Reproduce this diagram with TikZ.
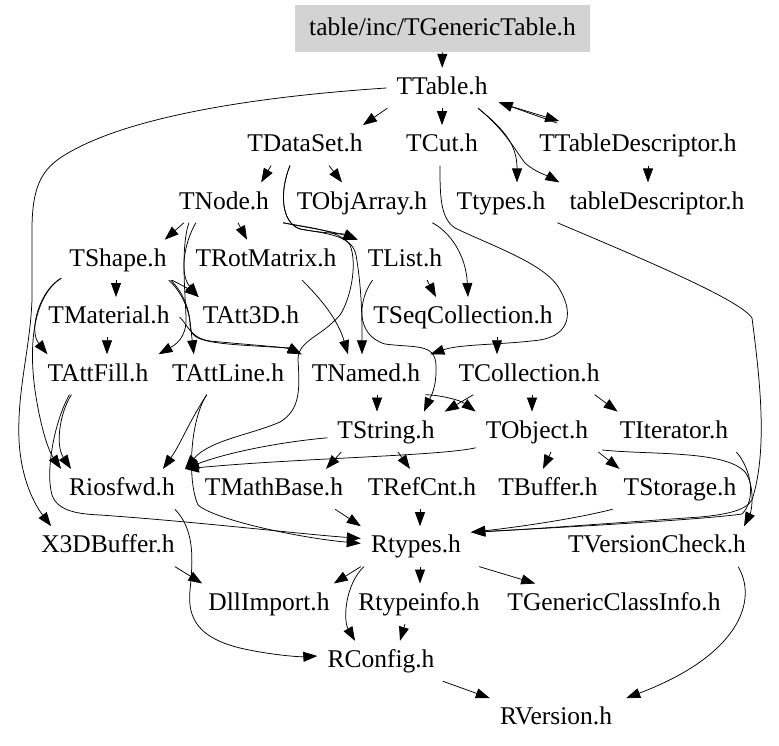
\documentclass[tikz,border=0pt]{standalone}
\usepackage{fontspec}
\setmainfont{Liberation Serif}
\usetikzlibrary{arrows.meta,calc}
\begin{document}
\begin{tikzpicture}[x=1pt,y=-1pt,
  n/.style={inner xsep=10pt,inner ysep=0pt,minimum height=40pt,text height=18pt,text depth=5pt,font=\fontsize{25.5}{28}\selectfont},
  e/.style={draw=black,line width=0.75pt,-{Triangle[length=14pt,width=10pt]}}]
\useasboundingbox (0,0) rectangle (779,745);
% nodes
\node[n,fill={rgb,255:red,211;green,211;blue,211},minimum width=295pt,minimum height=47pt] (TGT) at (442.5,28.5) {table/inc/TGenericTable.h};
\node[n] (TTable) at (442,88) {TTable.h};
\node[n] (TDataSet) at (305,145.3) {TDataSet.h};
\node[n] (TCut) at (442,145.3) {TCut.h};
\node[n] (TTD) at (638,145.3) {TTableDescriptor.h};
\node[n] (TNode) at (224,202.6) {TNode.h};
\node[n] (TObjArray) at (362,202.6) {TObjArray.h};
\node[n] (Ttypes) at (501,202.6) {Ttypes.h};
\node[n] (tD) at (657,202.6) {tableDescriptor.h};
\node[n] (TShape) at (118,259.9) {TShape.h};
\node[n] (TRotMatrix) at (266,259.9) {TRotMatrix.h};
\node[n] (TList) at (405,259.9) {TList.h};
\node[n] (TMaterial) at (109,317.2) {TMaterial.h};
\node[n] (TAtt3D) at (251,317.2) {TAtt3D.h};
\node[n] (TSeqColl) at (463,317.2) {TSeqCollection.h};
\node[n] (TAttFill) at (98,374.5) {TAttFill.h};
\node[n] (TAttLine) at (228,374.5) {TAttLine.h};
\node[n] (TNamed) at (366,374.5) {TNamed.h};
\node[n] (TColl) at (529,374.5) {TCollection.h};
\node[n] (TString) at (386,431.8) {TString.h};
\node[n] (TObject) at (537,431.8) {TObject.h};
\node[n] (TIterator) at (674,431.8) {TIterator.h};
\node[n] (Riosfwd) at (122,489.1) {Riosfwd.h};
\node[n] (TMathBase) at (274,489.1) {TMathBase.h};
\node[n] (TRefCnt) at (422,489.1) {TRefCnt.h};
\node[n] (TBuffer) at (548,489.1) {TBuffer.h};
\node[n] (TStorage) at (680,489.1) {TStorage.h};
\node[n] (X3D) at (108,546.4) {X3DBuffer.h};
\node[n] (Rtypes) at (416,546.4) {Rtypes.h};
\node[n] (TVC) at (657,546.4) {TVersionCheck.h};
\node[n] (DllImport) at (269,603.7) {DllImport.h};
\node[n] (Rtypeinfo) at (419,603.7) {Rtypeinfo.h};
\node[n] (TGCI) at (614,603.7) {TGenericClassInfo.h};
\node[n] (RConfig) at (381,661) {RConfig.h};
\node[n] (RVersion) at (556,718.3) {RVersion.h};
% edges
\draw[e] (TGT) -- (TTable);
\draw[e] ($(TTable.south west)+(1,0)$) -- ($(TDataSet.north east)+(-10,0)$);
\draw[e] (TTable) -- (TCut);
\draw[e] ($(TTable.south east)+(3,-5)$) -- ($(TTD.north west)+(30,-4)$);
\draw[e] ($(TTD.north west)+(28,-2)$) -- ($(TTable.south east)+(1,-6)$);
\draw[e] ($(TTable.south)+(36,0)$) .. controls (505,130) and (517,145) .. ($(Ttypes.north)+(16,0)$);
\draw[e] ($(TTable.south)+(36,0)$) .. controls (505,130) and (515,150) .. (525,163) .. controls (535,172) and (548,176) .. (tD.north west);
\draw[e] ($(TTD.south)+(10,0)$) -- ($(tD.north)+(-9,0)$);
\draw[e] (TTable.west) .. controls (250,97) and (120,118) .. (60,158) .. controls (40,172) and (32,190) .. (32,230) -- (32,300) .. controls (30,350) and (17,390) .. (19,440) .. controls (21,480) and (35,505) .. ($(X3D.north west)+(20,0)$);
\draw[e] ($(TDataSet.south west)+(34,0)$) -- ($(TNode.north east)+(-18,0)$);
\draw[e] ($(TDataSet.south)+(24,0)$) -- ($(TObjArray.north)+(-20,0)$);
\draw[e] ($(TDataSet.south)+(-15,0)$) .. controls (280,190) and (280,222) .. (300,229) .. controls (320,233) and (345,234) .. (TList.north west);
\draw[e] ($(TDataSet.south)+(-15,0)$) .. controls (280,190) and (280,222) .. (300,229) .. controls (330,234) and (352,236) .. (356,255) .. controls (362,290) and (362,320) .. ($(TNamed.north)+(-4,0)$);
\draw[e] ($(TNode.south west)+(15,0)$) -- ($(TShape.north east)+(-12,0)$);
\draw[e] ($(TNode.south)+(14,0)$) -- ($(TRotMatrix.north)+(-19,0)$);
\draw[e] ($(TNode.south east)+(4,0)$) .. controls (310,228) and (335,232) .. (TList.north west);
\draw[e] ($(TNode.south east)+(4,0)$) .. controls (310,228) and (340,230) .. (350,245) .. controls (358,265) and (350,300) .. (340,315) .. controls (320,338) and (298,340) .. (298,360) .. controls (300,390) and (300,410) .. (280,422) .. controls (250,435) and (210,440) .. (Riosfwd.north east);
\draw[e] ($(TRotMatrix.south)+(36,0)$) .. controls (322,300) and (338,320) .. ($(TNamed.north)+(-18,0)$);
\draw[e] ($(TNode.south west)+(27,0)$) .. controls (183,245) and (180,275) .. ($(TAtt3D.north west)+(6,0)$);
\draw[e] ($(TShape.south east)+(-5,0)$) .. controls (182,285) and (190,290) .. ($(TAtt3D.north west)+(6,0)$);
\draw[e] ($(TShape.south)+(-2,0)$) -- ($(TMaterial.north)+(7,0)$);
\draw[e] ($(TShape.south west)+(2,-2)$) .. controls (40,290) and (28,330) .. ($(TAttFill.north west)+(10,0)$);
\draw[e] ($(TShape.south west)+(2,-2)$) .. controls (35,295) and (28,340) .. (35,390) .. controls (40,425) and (48,450) .. ($(Riosfwd.north west)+(2,0)$);
\draw[e] ($(TMaterial.south)+(-2,0)$) -- ($(TAttFill.north)+(9,0)$);
\draw[e] ($(TNode.south west)+(20,0)$) .. controls (180,250) and (186,300) .. (186,320) .. controls (186,338) and (175,345) .. (TAttFill.north east);
\draw[e] ($(TShape.south east)+(-8,0)$) .. controls (185,295) and (190,315) .. (191,330) -- ($(TAttLine.north west)+(32,0)$);
\draw[e] ($(TShape.south east)+(-6,0)$) .. controls (183,292) and (190,310) .. (190,325) .. controls (190,338) and (200,342) .. (240,345) .. controls (270,347) and (290,348) .. (TNamed.north west);
\draw[e] (TMaterial.east) .. controls (188,325) and (190,338) .. (210,341) .. controls (250,345) and (285,347) .. (TNamed.north west);
\draw[e] ($(TObjArray.south east)+(-5,0)$) .. controls (450,232) and (466,255) .. ($(TSeqColl.north)+(5,0)$);
\draw[e] ($(TList.south)+(22,0)$) -- ($(TSeqColl.north)+(-27,0)$);
\draw[e] ($(TCut.south)+(-2,0)$) .. controls (440,195) and (440,218) .. (455,228) .. controls (490,245) and (540,262) .. (557,285) .. controls (575,312) and (570,335) .. (540,340) .. controls (500,345) and (460,344) .. (TNamed.north east);
\draw[e] ($(TSeqColl.south)+(34,0)$) -- ($(TColl.north)+(-32,0)$);
\draw[e] ($(TList.south west)+(15,0)$) .. controls (358,300) and (355,335) .. (385,344) .. controls (415,348) and (435,343) .. (436,365) .. controls (437,388) and (430,398) .. ($(TString.north)+(38,0)$);
\draw[e] ($(TNamed.south)+(11,0)$) -- ($(TString.north)+(-9,0)$);
\draw[e] ($(TNamed.south east)+(-5,0)$) .. controls (440,395) and (460,400) .. (TObject.north west);
\draw[e] ($(TColl.south)+(3,0)$) -- ($(TObject.north)+(-5,0)$);
\draw[e] ($(TColl.south west)+(25,0)$) -- (TString.north east);
\draw[e] ($(TColl.south east)+(-15,0)$) -- ($(TIterator.north west)+(8,0)$);
\draw[e] ($(TString.south west)+(14,0)$) -- ($(TMathBase.north)+(52,0)$);
\draw[e] ($(TString.south)+(12,0)$) -- ($(TRefCnt.north)+(-12,0)$);
\draw[e] ($(TString.west)+(0,6)$) .. controls (270,443) and (220,455) .. (Riosfwd.north east);
\draw[e] ($(TObject.west)+(0,16)$) .. controls (440,456) and (300,458) .. (Riosfwd.north east);
\draw[e] ($(TObject.south)+(14,0)$) -- ($(TBuffer.north)+(-5,0)$);
\draw[e] (TObject.south east) -- ($(TStorage.north west)+(6,0)$);
\draw[e] ($(TObject.south east)+(4,-2)$) .. controls (650,455) and (725,450) .. (745,472) .. controls (755,485) and (752,510) .. ($(TVC.north east)+(-12,0)$);
\draw[e] ($(TIterator.south east)+(-2,0)$) .. controls (752,470) and (756,500) .. (742,514) .. controls (700,520) and (550,528) .. ($(Rtypes.north east)+(0,6)$);
\draw[e] ($(Ttypes.south east)+(2,0)$) .. controls (650,262) and (740,300) .. (752,318) .. controls (760,380) and (768,450) .. (752,500) .. controls (745,512) and (720,515) .. (700,517) .. controls (600,524) and (520,530) .. ($(Rtypes.north east)+(0,6)$);
\draw[e] ($(TStorage.south west)+(-1,0)$) .. controls (570,520) and (510,528) .. ($(Rtypes.north east)+(0,6)$);
\draw[e] ($(TMathBase.south east)+(-18,0)$) -- (Rtypes.north west);
\draw[e] ($(TRefCnt.south)+(-2,0)$) -- ($(Rtypes.north)+(4,0)$);
\draw[e] ($(TAttFill.south west)+(34,0)$) .. controls (60,412) and (55,445) .. ($(Riosfwd.north west)+(12,0)$);
\draw[e] ($(TAttFill.south west)+(32,0)$) .. controls (55,420) and (45,470) .. (52,495) .. controls (58,512) and (80,514) .. (100,515) .. controls (200,522) and (300,534) .. ($(Rtypes.west)+(0,-8)$);
\draw[e] ($(TAttLine.south west)+(45,0)$) .. controls (190,420) and (180,445) .. ($(Riosfwd.north east)+(-22,0)$);
\draw[e] ($(TAttLine.south west)+(45,0)$) .. controls (190,420) and (187,480) .. (198,505) .. controls (215,520) and (300,538) .. ($(Rtypes.west)+(0,-3)$);
\draw[e] ($(X3D.south east)+(-10,0)$) -- ($(DllImport.north west)+(4,0)$);
\draw[e] ($(Riosfwd.south east)+(-10,0)$) .. controls (195,530) and (193,560) .. (190,590) .. controls (187,620) and (200,638) .. (240,648) .. controls (270,655) and (300,657) .. ($(RConfig.west)+(0,-5)$);
\draw[e] (Rtypes.south west) -- ($(DllImport.north east)+(-6,0)$);
\draw[e] ($(Rtypes.south)+(4,0)$) -- ($(Rtypeinfo.north)+(1,0)$);
\draw[e] ($(Rtypes.south east)+(8,0)$) -- ($(TGCI.north west)+(38,0)$);
\draw[e] ($(Rtypes.south west)+(3,0)$) .. controls (345,585) and (343,620) .. ($(RConfig.north)+(-26,0)$);
\draw[e] ($(Rtypeinfo.south)+(-14,0)$) -- ($(RConfig.north)+(19,0)$);
\draw[e] ($(RConfig.south east)+(-2,0)$) -- (RVersion.north west);
\draw[e] ($(TVC.south east)+(-18,0)$) .. controls (758,600) and (740,655) .. ($(RVersion.north east)+(4,0)$);
\end{tikzpicture}
\end{document}
